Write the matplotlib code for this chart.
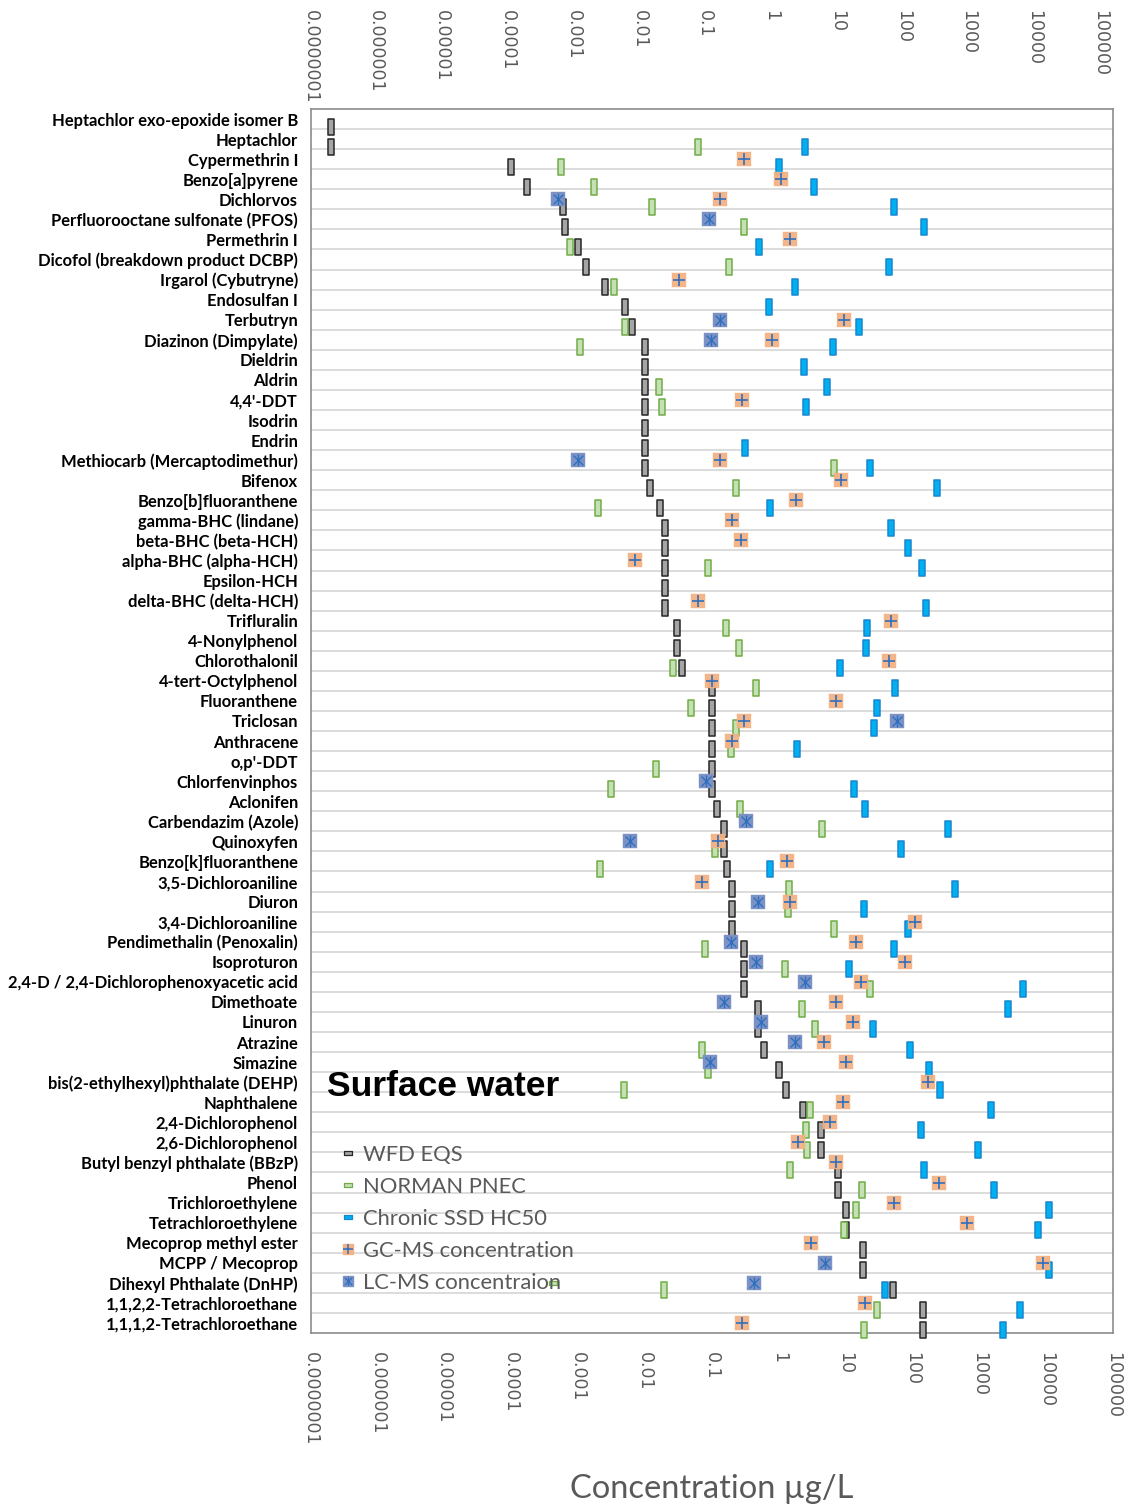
import numpy as np
import matplotlib
matplotlib.use('Agg')
import matplotlib.pyplot as plt
from matplotlib.path import Path
from matplotlib.lines import Line2D

nan = np.nan

compounds = [
    'Heptachlor exo-epoxide isomer B', 'Heptachlor', 'Cypermethrin I',
    'Benzo[a]pyrene', 'Dichlorvos', 'Perfluorooctane sulfonate (PFOS)',
    'Permethrin I', 'Dicofol (breakdown product DCBP)', 'Irgarol (Cybutryne)',
    'Endosulfan I', 'Terbutryn', 'Diazinon (Dimpylate)', 'Dieldrin', 'Aldrin',
    "4,4'-DDT", 'Isodrin', 'Endrin', 'Methiocarb (Mercaptodimethur)', 'Bifenox',
    'Benzo[b]fluoranthene', 'gamma-BHC (lindane)', 'beta-BHC (beta-HCH)',
    'alpha-BHC (alpha-HCH)', 'Epsilon-HCH', 'delta-BHC (delta-HCH)',
    'Trifluralin', '4-Nonylphenol', 'Chlorothalonil', '4-tert-Octylphenol',
    'Fluoranthene', 'Triclosan', 'Anthracene', "o,p'-DDT", 'Chlorfenvinphos',
    'Aclonifen', 'Carbendazim (Azole)', 'Quinoxyfen', 'Benzo[k]fluoranthene',
    '3,5-Dichloroaniline', 'Diuron', '3,4-Dichloroaniline',
    'Pendimethalin (Penoxalin)', 'Isoproturon',
    '2,4-D / 2,4-Dichlorophenoxyacetic acid', 'Dimethoate', 'Linuron',
    'Atrazine', 'Simazine', 'bis(2-ethylhexyl)phthalate (DEHP)', 'Naphthalene',
    '2,4-Dichlorophenol', '2,6-Dichlorophenol', 'Butyl benzyl phthalate (BBzP)',
    'Phenol', 'Trichloroethylene', 'Tetrachloroethylene',
    'Mecoprop methyl ester', 'MCPP / Mecoprop', 'Dihexyl Phthalate (DnHP)',
    '1,1,2,2-Tetrachloroethane', '1,1,1,2-Tetrachloroethane',
]

wfd_eqs = [
    2e-7, 2e-7, 1.0e-4, 1.7e-4, 6e-4, 6.5e-4, 1e-3, 1.3e-3, 2.5e-3, 5e-3,
    6.5e-3, 0.01, 0.01, 0.01, 0.01, 0.01, 0.01, 0.01, 0.012, 0.017,
    0.02, 0.02, 0.02, 0.02, 0.02, 0.03, 0.03, 0.036, 0.1, 0.1,
    0.1, 0.1, 0.1, 0.1, 0.12, 0.15, 0.15, 0.17, 0.2, 0.2,
    0.2, 0.3, 0.3, 0.3, 0.5, 0.5, 0.6, 1.0, 1.3, 2.3,
    4.3, 4.3, 7.6, 7.7, 10, 10, 18, 18, 51, 143, 143,
]

norman_pnec = [
    nan, 0.063, 5.5e-4, 1.76e-3, 0.0128, 0.30, 7.7e-4, 0.18, 3.5e-3, nan,
    5.1e-3, 1.08e-3, nan, 0.0161, 0.0183, nan, nan, 6.7, 0.23, 1.96e-3,
    nan, nan, 0.0875, nan, nan, 0.164, 0.258, 0.026, 0.458, 0.049,
    0.23, 0.193, 0.0145, 3.1e-3, 0.262, 4.4, 0.113, 2.15e-3, 1.43, 1.4,
    6.7, 0.0785, 1.26, 23.2, 2.2, 3.44, 0.0705, 0.088, 4.9e-3, 2.9,
    2.58, 2.7, 1.5, 17.7, 14.3, 9.4, nan, nan, 0.0193, 29.3, 19,
]

ssd_hc50 = [
    nan, 2.5, 1.0, 3.4, 54, 148, 0.51, 45, 1.77, 0.72,
    15.9, 6.5, 2.4, 5.3, 2.54, nan, 0.31, 23, 233, 0.75,
    48.5, 86, 140, nan, 160, 20.8, 20.1, 8.2, 55, 30,
    26.4, 1.9, nan, 13.5, 19.7, 346, 68, 0.75, 429, 19,
    85, 54, 11.1, 4540, 2690, 25.4, 91, 177, 259, 1510,
    135, 964, 148, 1655, 10960, 7510, nan, 11000, 38.5, 4080, 2290,
]

gc_ms = [
    nan, nan, 0.30, 1.1, 0.132, nan, 1.5, nan, 0.0325, nan,
    9.6, 0.80, nan, nan, 0.287, nan, nan, 0.132, 8.6, 1.8,
    0.204, 0.277, 7.2e-3, nan, 0.062, 48.5, nan, 45, 0.101, 7.1,
    0.308, 0.204, nan, nan, nan, nan, 0.126, 1.33, 0.0705, 1.5,
    111, 14.3, 77.6, 17.1, 7.1, 13.1, 4.76, 10.1, 171, 9.3,
    5.8, 1.94, 7.1, 250, 53, 661, 3.09, 8830, nan, 19.4, 0.287,
]

lc_ms = [
    nan, nan, nan, nan, 5.1e-4, 0.091, nan, nan, nan, nan,
    0.132, 0.096, nan, nan, nan, nan, nan, 1e-3, nan, nan,
    nan, nan, nan, nan, nan, nan, nan, nan, nan, nan,
    59, nan, nan, 0.0815, nan, 0.326, 5.9e-3, nan, nan, 0.49,
    nan, 0.193, 0.458, 2.45, 0.153, 0.54, 1.74, 0.094, nan, nan,
    nan, nan, nan, nan, nan, nan, nan, 4.94, 0.434, nan, nan,
]

# stray small PNEC point sitting next to the legend
extra_pnec_rows = ['Dihexyl Phthalate (DnHP)']
extra_pnec_values = [4.2e-4]

tick_values = [1e-7, 1e-6, 1e-5, 1e-4, 1e-3, 1e-2, 1e-1, 1, 10, 100, 1000,
               10000, 100000]
tick_labels = ['0.0000001', '0.000001', '0.00001', '0.0001', '0.001', '0.01',
               '0.1', '1', '10', '100', '1000', '10000', '100000']

GREY_TXT = '#595959'

rect_path = Path([(-0.375, -1), (0.375, -1), (0.375, 1), (-0.375, 1),
                  (-0.375, -1)], closed=True)
hbar_path = Path([(-1, -0.45), (1, -0.45), (1, 0.45), (-1, 0.45),
                  (-1, -0.45)], closed=True)
star_path = Path([(-1, -1), (1, 1), (-1, 1), (1, -1), (0, -1.2), (0, 1.2)],
                 [Path.MOVETO, Path.LINETO, Path.MOVETO, Path.LINETO,
                  Path.MOVETO, Path.LINETO])

styles = {
    'eqs': dict(mfc='#A5A5A5', mec='#262626'),
    'pnec': dict(mfc='#C5E0B4', mec='#70AD47'),
    'hc50': dict(mfc='#00B0F0', mec='#1A86CF'),
}
ORANGE = '#F4B183'
LC_FILL = '#7D92C4'
CROSS = '#2E6FC0'

fig = plt.figure(figsize=(11.31, 15.10), dpi=100)
ax = fig.add_axes([0.27454, 0.11722, 0.70955, 0.81060])

n = len(compounds)
y = np.arange(n)
row_off = 0.374  # the bar-type markers sit a little below the row centre

for vals, key in [(wfd_eqs, 'eqs'), (norman_pnec, 'pnec'), (ssd_hc50, 'hc50')]:
    ax.plot(vals, y + row_off, ls='none', marker=rect_path, ms=11.5,
            mew=1.1, clip_on=False, zorder=3, **styles[key])

extra_y = [compounds.index(c) for c in extra_pnec_rows]
ax.plot(extra_pnec_values, extra_y, ls='none', marker=hbar_path, ms=6,
        mew=0.9, zorder=3, **styles['pnec'])

ax.plot(gc_ms, y, ls='none', marker='s', ms=9.6, mfc=ORANGE, mec=ORANGE,
        mew=0.3, alpha=0.95, zorder=4)
ax.plot(gc_ms, y, ls='none', marker='+', ms=8.8, mec=CROSS, mew=1.2,
        zorder=5)
ax.plot(lc_ms, y, ls='none', marker='s', ms=9.6, mfc=LC_FILL, mec=LC_FILL,
        mew=0.3, zorder=4)
ax.plot(lc_ms, y, ls='none', marker=star_path, ms=8.5, mfc='none',
        mec=CROSS, mew=1.0, zorder=5)

ax.set_xscale('log')
ax.set_xlim(1e-7, 1e5)
ax.set_ylim(n - 0.5, -0.5)

ax.set_xticks(tick_values, tick_labels)
ax.xaxis.set_minor_locator(matplotlib.ticker.NullLocator())
ax.tick_params(axis='x', length=0, pad=14, labelsize=12.5,
               labelcolor=GREY_TXT, labelrotation=-90)
for lbl in ax.get_xticklabels():
    lbl.set_family('DejaVu Sans')

ax.set_yticks(y, compounds)
ax.set_yticks(y[:-1] + 0.5, minor=True)
ax.tick_params(axis='y', which='both', length=0, pad=9)
for lbl in ax.get_yticklabels():
    lbl.set_family('Lato')
    lbl.set_weight('bold')
    lbl.set_fontsize(11.9)
ax.grid(axis='y', which='minor', color='#D9D9D9', lw=1.3, zorder=0)
ax.set_axisbelow(True)

for sp in ax.spines.values():
    sp.set_color('#8C8C8C')
    sp.set_linewidth(1.2)

# the top scale labels are squeezed a little towards the left
SQUEEZE = 0.984


def fwd(x):
    lx = np.log10(np.clip(x, 1e-300, None))
    return 10 ** ((lx + 7) / SQUEEZE - 7)


def inv(x):
    lx = np.log10(np.clip(x, 1e-300, None))
    return 10 ** (SQUEEZE * (lx + 7) - 7)


top = ax.secondary_xaxis('top', functions=(fwd, inv))
top.set_xticks(tick_values, tick_labels)
top.xaxis.set_minor_locator(matplotlib.ticker.NullLocator())
top.tick_params(axis='x', length=0, pad=71, labelsize=12.5,
                labelcolor=GREY_TXT, labelrotation=-90)
top.spines['top'].set_visible(False)
for lbl in top.get_xticklabels():
    lbl.set_family('DejaVu Sans')
    lbl.set_va('top')

ax.set_xlabel('Concentration µg/L', fontsize=23.5, family='Lato',
              color=GREY_TXT, labelpad=20)

ax.text(0.02, 0.201, 'Surface water', transform=ax.transAxes,
        fontsize=25.5, weight='bold', family='Liberation Sans', va='center',
        ha='left', zorder=6)

handles = [
    Line2D([], [], ls='none', marker=hbar_path, ms=6, mew=0.9,
           **styles['eqs']),
    Line2D([], [], ls='none', marker=hbar_path, ms=6, mew=0.9,
           **styles['pnec']),
    Line2D([], [], ls='none', marker=hbar_path, ms=6, mew=0.9,
           **styles['hc50']),
    (Line2D([], [], ls='none', marker='s', ms=7.5, mfc=ORANGE, mec=ORANGE),
     Line2D([], [], ls='none', marker='+', ms=7, mec=CROSS, mew=1.1)),
    (Line2D([], [], ls='none', marker='s', ms=7.5, mfc=LC_FILL, mec=LC_FILL),
     Line2D([], [], ls='none', marker=star_path, ms=6.5, mfc='none',
            mec=CROSS, mew=0.9)),
]
labels = ['WFD EQS', 'NORMAN PNEC', 'Chronic SSD HC50', 'GC-MS concentration',
          'LC-MS concentraion']
leg = ax.legend(handles, labels, loc='upper left',
                bbox_to_anchor=(0.036, 0.1537), frameon=False,
                prop={'family': 'Lato', 'size': 15.8}, labelcolor=GREY_TXT,
                handlelength=0.8, handletextpad=0.26, labelspacing=0.55,
                borderpad=0, borderaxespad=0)
leg.set_zorder(6)

fig.savefig('out.png', dpi=100)
